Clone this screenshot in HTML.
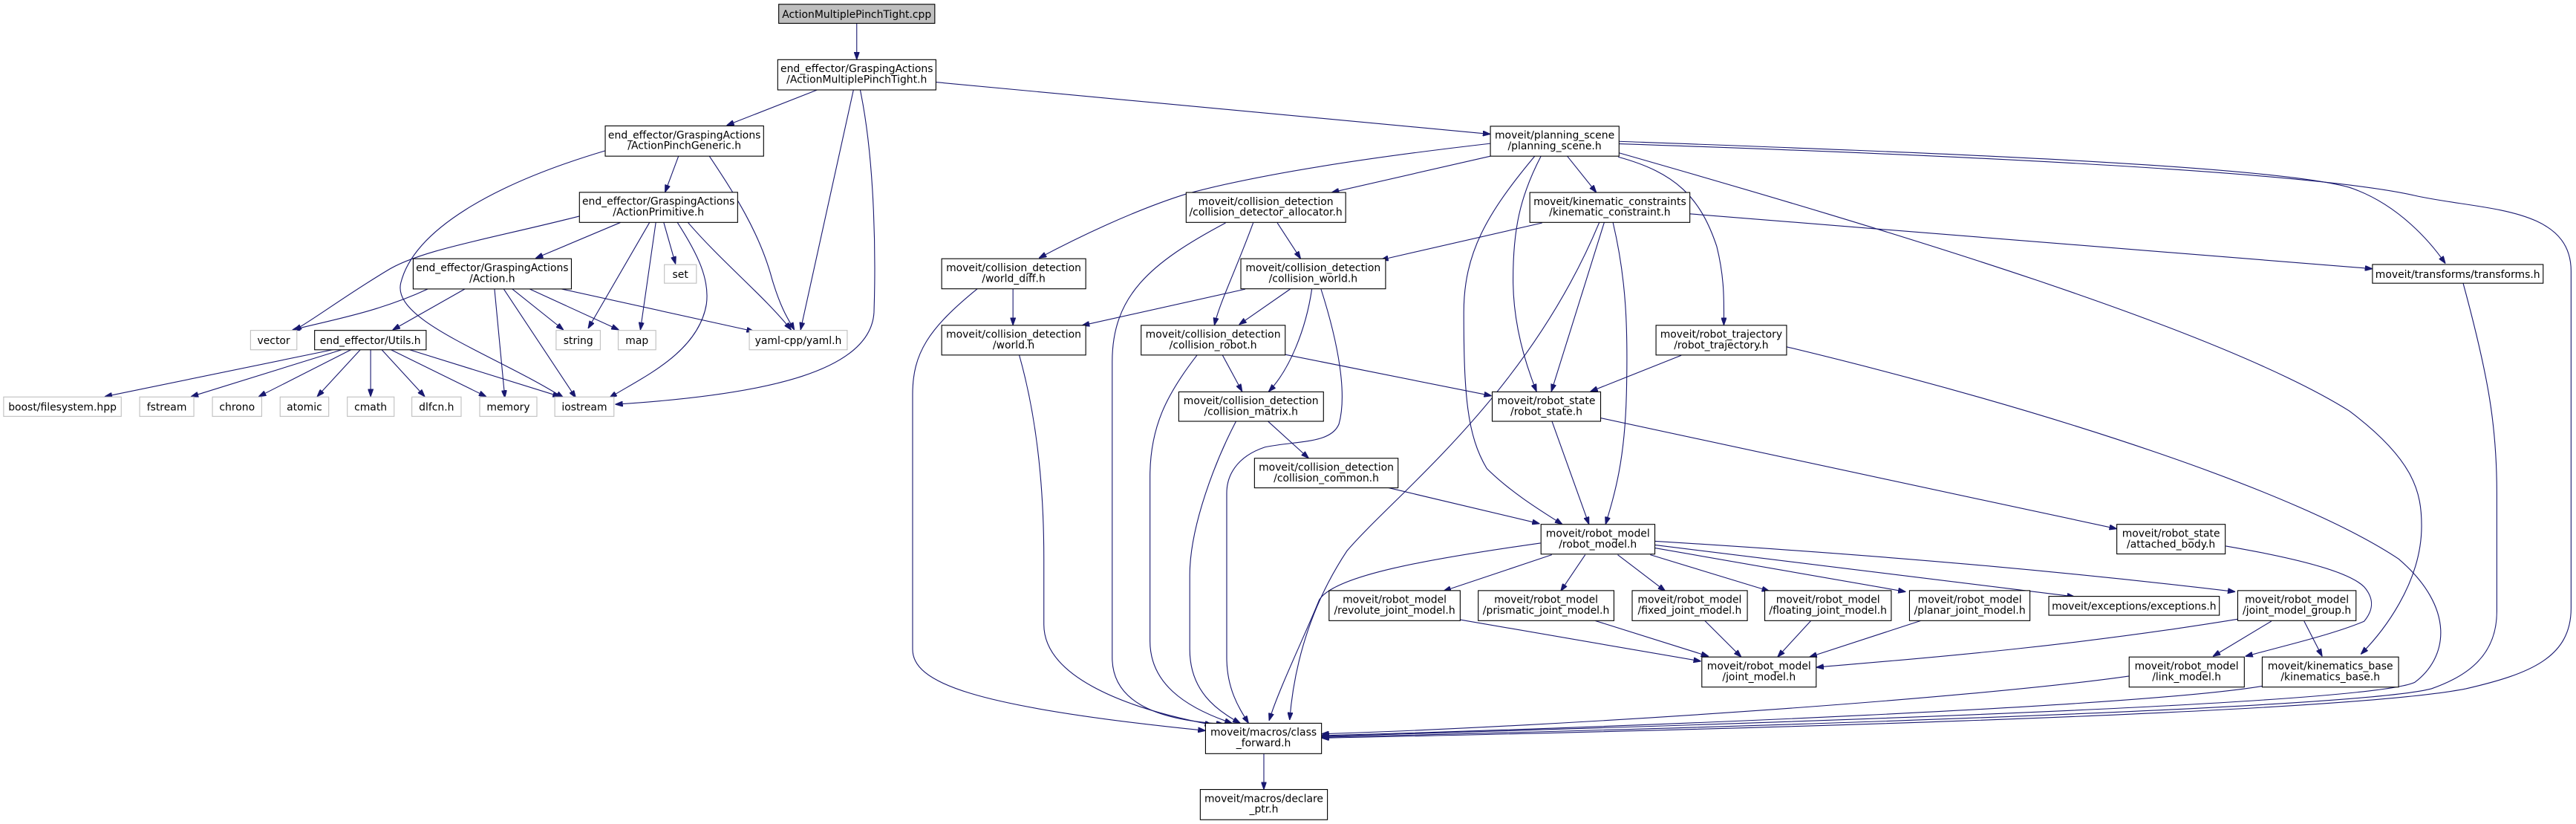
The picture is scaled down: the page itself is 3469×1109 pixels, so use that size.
<!DOCTYPE html>
<html><head><meta charset="utf-8"><style>
html,body{margin:0;padding:0;background:#fff;}
svg{display:block;}
text{font-family:"DejaVu Sans","Liberation Sans",sans-serif;font-size:6.3px;fill:#000;text-anchor:middle;}
.e{fill:none;stroke:#191970;stroke-width:0.5;marker-end:url(#a);}
.n{fill:#fff;stroke:#000;stroke-width:0.5;}
.g{fill:#fff;stroke:#bfbfbf;stroke-width:0.5;}
</style></head><body>
<svg width="3469" height="1109" viewBox="0 0 1568 501.3" preserveAspectRatio="none" xmlns="http://www.w3.org/2000/svg">
<defs><marker id="a" viewBox="0 0 10 7" refX="10" refY="3.5" markerWidth="4.6" markerHeight="3.3" markerUnits="userSpaceOnUse" orient="auto"><path d="M0,0L10,3.5L0,7z" fill="#191970" stroke="#191970"/></marker></defs>

<!-- edges left part -->
<path class="e" d="M521.5,14.2L521.5,36.3"/>
<path class="e" d="M497.4,54.7L442.3,76.3"/>
<path class="e" d="M519.5,54.7L487.3,200.7"/>
<path class="e" d="M523.6,54.7C533,100 533,160 532,190C530,225 470,240 374.5,246"/>
<path class="e" d="M569.7,50L907.2,81.6"/>
<path class="e" d="M413,95L404.8,117"/>
<path class="e" d="M431.8,95C445,115 462,140 470,170C476,190 481,196 483.5,200.7"/>
<path class="e" d="M368.4,91.7C300,112 252,140 244,172C238,195 300,215 343,242"/>
<path class="e" d="M352.7,131.5C300,145 255,152 235,165C210,180 190,195 179,201"/>
<path class="e" d="M377.8,135.3L326,157.1"/>
<path class="e" d="M395.4,135.3L358,199.8"/>
<path class="e" d="M399.2,135.3L389.8,200.7"/>
<path class="e" d="M404,135.3L411.2,160.6"/>
<path class="e" d="M412.3,135.3C425,155 432,170 430,185C425,215 390,230 371,242"/>
<path class="e" d="M418.7,135.3C440,160 465,180 481.6,200.7"/>
<path class="e" d="M260.5,175.8C230,190 200,195 178,200.7"/>
<path class="e" d="M283,175.8L239,200.7"/>
<path class="e" d="M301,175.8L307.3,242"/>
<path class="e" d="M306.6,175.8L350.5,242"/>
<path class="e" d="M311.8,175.8L343,200.7"/>
<path class="e" d="M322.3,175.8L376.7,200.7"/>
<path class="e" d="M341.8,175.8L459,201.6"/>
<path class="e" d="M202.4,212.8L63.7,241.3"/>
<path class="e" d="M208,212.8L116.2,241.3"/>
<path class="e" d="M213.6,212.8L157.4,241.3"/>
<path class="e" d="M219.3,212.8L193,241.3"/>
<path class="e" d="M225.6,212.8L225.6,241.3"/>
<path class="e" d="M232.4,212.8L258.6,241.3"/>
<path class="e" d="M238,212.8L296,241.3"/>
<path class="e" d="M249.3,212.8L341,241.3"/>

<!-- planning scene edges -->
<path class="e" d="M907.2,87.3C840,95 770,105 722,118C690,128 655,145 632.4,157"/>
<path class="e" d="M907.2,95L810.5,117.1"/>
<path class="e" d="M954,95L971.7,117.1"/>
<path class="e" d="M938,95C925,120 921,140 921,170C921,200 930,225 935.3,238.2"/>
<path class="e" d="M934.2,95C905,130 891,154 891,190C891,240 893,265 905,285C920,300 940,312 951,319"/>
<path class="e" d="M985,95.5C1020,105 1035,120 1045,150C1050,170 1049.3,185 1049.3,197.9"/>
<path class="e" d="M985.5,86C1150,92 1380,100 1430,114C1460,124 1480,148 1488.5,160.3"/>
<path class="e" d="M985.5,87.5C1150,93 1400,103 1470,119C1510,128 1565,125 1565,165L1565,370C1565,400 1540,410 1501,419C1420,435 1000,445 804.4,449"/>
<path class="e" d="M985.5,93C1150,140 1350,200 1430,250C1470,280 1474,300 1474,320C1474,355 1450,385 1437,398"/>
<!-- collision detection -->
<path class="e" d="M746,135.6C700,160 677,180 677,220L677,400C677,425 700,438 745,440.5"/>
<path class="e" d="M762.8,135.6C752,165 742,185 739.2,197.9"/>
<path class="e" d="M777.5,135.6L791.7,157.4"/>
<path class="e" d="M938.7,135.6L840.5,158.1"/>
<path class="e" d="M973.5,135.3C930,240 850,300 820,335C800,365 788,400 785,438"/>
<path class="e" d="M976.5,135.3L944.3,238.2"/>
<path class="e" d="M981.8,135.3C990,170 991,200 990,240C989,280 983,300 977.3,319"/>
<path class="e" d="M1028.6,130.1L1444.1,163.5"/>
<path class="e" d="M616.6,175.7L616.6,197.9"/>
<path class="e" d="M594.9,175.7C565,200 555.5,215 555.5,240L555.5,395C555.5,415 590,430 733.8,444.5"/>
<path class="e" d="M758,175.9L658.6,198"/>
<path class="e" d="M785.3,175.9L754.2,197.5"/>
<path class="e" d="M798.5,175.9C795,200 785,225 772.2,238.2"/>
<path class="e" d="M804.1,175.9C815,210 820,240 815,258C810,270 790,268 770,272C752,278 746.7,290 746.7,300L746.7,400C746.7,420 755,432 760,440"/>
<path class="e" d="M620.4,216C630,250 635.4,290 635.4,340L635.4,380C635.4,410 680,430 738,441"/>
<path class="e" d="M728.7,216C710,240 700,260 700,290L700,390C700,415 720,430 750,440"/>
<path class="e" d="M744.1,216L756.1,238.2"/>
<path class="e" d="M782.3,215.7L907.9,240.8"/>
<path class="e" d="M1023.4,216.2L968,238.2"/>
<path class="e" d="M1087.5,211C1250,250 1400,300 1460,340C1495,370 1490,400 1470,415C1440,430 1000,442 804.4,448"/>
<path class="e" d="M752.3,256.4C740,280 724.2,320 724.2,350L724.2,395C724.2,420 740,432 755,440"/>
<path class="e" d="M771.9,256.4L796.6,278.8"/>
<path class="e" d="M944.7,256.4L967.2,319"/>
<path class="e" d="M974.3,254.3L1288.5,321.7"/>
<path class="e" d="M845.3,296.8L937.2,318.6"/>
<path class="e" d="M1499.3,172.3C1515,230 1519.8,260 1519.8,300L1519.8,372C1519.8,400 1500,412 1480,419C1430,432 1000,444 804.4,448.5"/>
<!-- robot model -->
<path class="e" d="M937.7,330.4C870,340 812,350 803,365C795,385 778,420 772.5,438.4"/>
<path class="e" d="M944.6,337.5L878.6,359.6"/>
<path class="e" d="M964.9,337.5L950,359.6"/>
<path class="e" d="M984.7,337.5L1013.7,359.6"/>
<path class="e" d="M1004.5,337.5L1077,359.6"/>
<path class="e" d="M1006.8,333.3L1160,360"/>
<path class="e" d="M1006.8,331.5L1262.8,363"/>
<path class="e" d="M1006.8,329.2C1150,338 1260,348 1360.6,360"/>
<path class="e" d="M888.8,377L1035.4,402.3"/>
<path class="e" d="M970.9,377.6L1040,399.3"/>
<path class="e" d="M1037.7,377.6L1059.9,399.7"/>
<path class="e" d="M1102.3,377.6L1082,399.7"/>
<path class="e" d="M1169.2,377.6L1101.4,399.7"/>
<path class="e" d="M1354.8,332.2C1400,340 1430,348 1439,357C1446,365 1444,372 1439,378C1420,386 1390,393 1366.7,399.3"/>
<path class="e" d="M1362,376.7C1250,395 1150,402 1105.5,406"/>
<path class="e" d="M1382.6,377.9L1347,399.3"/>
<path class="e" d="M1402.5,377.9L1413.5,399.3"/>
<path class="e" d="M1296,411.3C1200,425 950,442 804.4,446.5"/>
<path class="e" d="M1377,417.4C1300,430 1000,442 804.4,447.5"/>
<path class="e" d="M769.3,458.5L769.3,480.3"/>

<!-- nodes -->
<rect x="474" y="2.6" width="95" height="11.6" fill="#bfbfbf" stroke="#000" stroke-width="0.5"/>
<text x="521.5" y="10.9">ActionMultiplePinchTight.cpp</text>

<g>
<rect class="n" x="473.4" y="36.3" width="96.3" height="18.4"/><text x="521.5" y="43.9">end_effector/GraspingActions</text><text x="521.5" y="50.4">/ActionMultiplePinchTight.h</text>
<rect class="n" x="368.4" y="76.6" width="96.4" height="18.4"/><text x="416.6" y="84.2">end_effector/GraspingActions</text><text x="416.6" y="90.7">/ActionPinchGeneric.h</text>
<rect class="n" x="352.7" y="117" width="96.3" height="18.3"/><text x="400.8" y="124.6">end_effector/GraspingActions</text><text x="400.8" y="131.1">/ActionPrimitive.h</text>
<rect class="n" x="251.5" y="157.4" width="96.3" height="18.4"/><text x="299.6" y="165">end_effector/GraspingActions</text><text x="299.6" y="171.5">/Action.h</text>
<rect class="n" x="191.5" y="201" width="67.9" height="11.8"/><text x="225.4" y="209.3">end_effector/Utils.h</text>
</g>
<g>
<rect class="g" x="152.5" y="201" width="28.2" height="11.8"/><text x="166.6" y="209.3">vector</text>
<rect class="g" x="338.5" y="201" width="26.9" height="11.8"/><text x="352" y="209.3">string</text>
<rect class="g" x="376.3" y="201" width="22.9" height="11.8"/><text x="387.7" y="209.3">map</text>
<rect class="g" x="456.1" y="201" width="59.6" height="11.8"/><text x="485.9" y="209.3">yaml-cpp/yaml.h</text>
<rect class="g" x="404.4" y="161" width="19.5" height="11.3"/><text x="414.1" y="169.1">set</text>
<rect class="g" x="2.2" y="241.5" width="71.6" height="11.8"/><text x="38" y="249.8">boost/filesystem.hpp</text>
<rect class="g" x="85" y="241.5" width="33" height="11.8"/><text x="101.5" y="249.8">fstream</text>
<rect class="g" x="129.3" y="241.5" width="30" height="11.8"/><text x="144.3" y="249.8">chrono</text>
<rect class="g" x="170.5" y="241.5" width="29.6" height="11.8"/><text x="185.3" y="249.8">atomic</text>
<rect class="g" x="211.4" y="241.5" width="28.5" height="11.8"/><text x="225.6" y="249.8">cmath</text>
<rect class="g" x="250.7" y="241.5" width="30" height="11.8"/><text x="265.7" y="249.8">dlfcn.h</text>
<rect class="g" x="292" y="241.5" width="34.8" height="11.8"/><text x="309.4" y="249.8">memory</text>
<rect class="g" x="337.7" y="241.5" width="36" height="11.8"/><text x="355.7" y="249.8">iostream</text>
</g>
<g>
<rect class="n" x="907.2" y="76.8" width="78.3" height="18.2"/><text x="946.3" y="84.4">moveit/planning_scene</text><text x="946.3" y="90.9">/planning_scene.h</text>
<rect class="n" x="722" y="117.1" width="97.1" height="18.2"/><text x="770.5" y="124.7">moveit/collision_detection</text><text x="770.5" y="131.2">/collision_detector_allocator.h</text>
<rect class="n" x="931.2" y="117.1" width="97.4" height="18.2"/><text x="979.9" y="124.7">moveit/kinematic_constraints</text><text x="979.9" y="131.2">/kinematic_constraint.h</text>
<rect class="n" x="573.2" y="157.4" width="87.7" height="18.3"/><text x="617" y="165">moveit/collision_detection</text><text x="617" y="171.5">/world_diff.h</text>
<rect class="n" x="755.3" y="157.4" width="88.1" height="18.3"/><text x="799.3" y="165">moveit/collision_detection</text><text x="799.3" y="171.5">/collision_world.h</text>
<rect class="n" x="1444.1" y="160.9" width="103.9" height="11.4"/><text x="1496" y="169">moveit/transforms/transforms.h</text>
<rect class="n" x="573.2" y="197.9" width="87.7" height="18.1"/><text x="617" y="205.5">moveit/collision_detection</text><text x="617" y="212">/world.h</text>
<rect class="n" x="694.6" y="197.9" width="87.7" height="18.1"/><text x="738.4" y="205.5">moveit/collision_detection</text><text x="738.4" y="212">/collision_robot.h</text>
<rect class="n" x="1008" y="197.9" width="79.5" height="18.1"/><text x="1047.7" y="205.5">moveit/robot_trajectory</text><text x="1047.7" y="212">/robot_trajectory.h</text>
<rect class="n" x="717.5" y="238.4" width="88.1" height="17.9"/><text x="761.5" y="246">moveit/collision_detection</text><text x="761.5" y="252.5">/collision_matrix.h</text>
<rect class="n" x="908.3" y="238.4" width="66" height="17.9"/><text x="941.3" y="246">moveit/robot_state</text><text x="941.3" y="252.5">/robot_state.h</text>
<rect class="n" x="763.6" y="278.8" width="87.4" height="18"/><text x="807.3" y="286.4">moveit/collision_detection</text><text x="807.3" y="292.9">/collision_common.h</text>
<rect class="n" x="938" y="319" width="69.3" height="18.1"/><text x="972.6" y="326.6">moveit/robot_model</text><text x="972.6" y="333.1">/robot_model.h</text>
<rect class="n" x="1288.5" y="319" width="66" height="18"/><text x="1321.5" y="326.6">moveit/robot_state</text><text x="1321.5" y="333.1">/attached_body.h</text>
<rect class="n" x="809" y="359.3" width="79.8" height="18.3"/><text x="848.9" y="366.9">moveit/robot_model</text><text x="848.9" y="373.4">/revolute_joint_model.h</text>
<rect class="n" x="899.8" y="359.3" width="82.6" height="18.3"/><text x="941.1" y="366.9">moveit/robot_model</text><text x="941.1" y="373.4">/prismatic_joint_model.h</text>
<rect class="n" x="993.5" y="359.3" width="70.1" height="18.3"/><text x="1028.5" y="366.9">moveit/robot_model</text><text x="1028.5" y="373.4">/fixed_joint_model.h</text>
<rect class="n" x="1074.2" y="359.3" width="77" height="18.3"/><text x="1112.7" y="366.9">moveit/robot_model</text><text x="1112.7" y="373.4">/floating_joint_model.h</text>
<rect class="n" x="1162.3" y="359.3" width="73.3" height="18.3"/><text x="1199" y="366.9">moveit/robot_model</text><text x="1199" y="373.4">/planar_joint_model.h</text>
<rect class="n" x="1247.1" y="362.8" width="103.8" height="11.5"/><text x="1299" y="370.9">moveit/exceptions/exceptions.h</text>
<rect class="n" x="1362.1" y="359.3" width="72" height="18.3"/><text x="1398.1" y="366.9">moveit/robot_model</text><text x="1398.1" y="373.4">/joint_model_group.h</text>
<rect class="n" x="1035.9" y="399.7" width="69.6" height="18.3"/><text x="1070.7" y="407.3">moveit/robot_model</text><text x="1070.7" y="413.8">/joint_model.h</text>
<rect class="n" x="1296" y="399.7" width="70.1" height="18.3"/><text x="1331" y="407.3">moveit/robot_model</text><text x="1331" y="413.8">/link_model.h</text>
<rect class="n" x="1377" y="399.7" width="83" height="18.3"/><text x="1418.5" y="407.3">moveit/kinematics_base</text><text x="1418.5" y="413.8">/kinematics_base.h</text>
<rect class="n" x="733.8" y="440" width="70.6" height="18.5"/><text x="769.1" y="447.6">moveit/macros/class</text><text x="769.1" y="454.1">_forward.h</text>
<rect class="n" x="730.6" y="480.3" width="77.4" height="18.4"/><text x="769.3" y="487.9">moveit/macros/declare</text><text x="769.3" y="494.4">_ptr.h</text>
</g>
</svg>
</body></html>
